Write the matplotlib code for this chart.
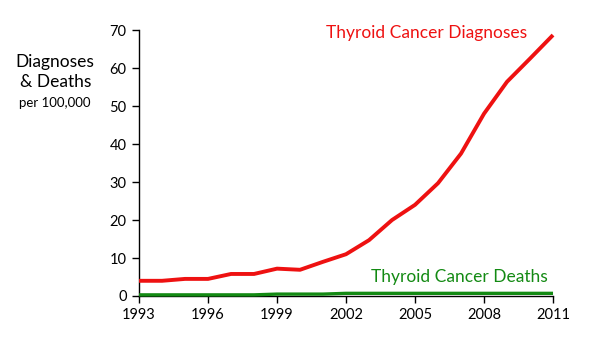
import numpy as np
import matplotlib.pyplot as plt

plt.rcParams['font.family'] = ['Lato', 'DejaVu Sans']

# --- Data (per 100,000) ---
years = list(range(1993, 2012))
diagnoses = [4.0, 4.0, 4.5, 4.5, 5.8, 5.8, 7.2, 6.9, 9.0, 11.0,
             14.7, 20.0, 24.0, 29.7, 37.5, 48.0, 56.4, 62.5, 68.7]
deaths = [0.3, 0.3, 0.3, 0.3, 0.3, 0.3, 0.5, 0.5, 0.5, 0.7,
          0.7, 0.7, 0.7, 0.7, 0.7, 0.7, 0.7, 0.7, 0.7]
xticks = [1993, 1996, 1999, 2002, 2005, 2008, 2011]
yticks = [0, 10, 20, 30, 40, 50, 60, 70]

red = "#ee1111"
green = "#138a13"

fig = plt.figure(figsize=(6, 3.5), dpi=100)
ax = fig.add_axes([0.2317, 0.1543, 0.69, 0.7597])

ax.plot(years, diagnoses, color=red, lw=2.8, solid_capstyle="butt", clip_on=False, zorder=3)
ax.plot(years, deaths, color=green, lw=2.4, solid_capstyle="butt", clip_on=False, zorder=3)

ax.set_xlim(1993, 2011)
ax.set_ylim(0, 70)
ax.set_xticks(xticks)
ax.set_yticks(yticks)
ax.tick_params(labelsize=10.5, length=5, width=1, color="black", pad=4)

for s in ["top", "right"]:
    ax.spines[s].set_visible(False)
for s in ["left", "bottom"]:
    ax.spines[s].set_color("black")
    ax.spines[s].set_linewidth(1)

# series labels
ax.text(2005.5, 69.2, "Thyroid Cancer Diagnoses", color=red, fontsize=12.5,
        ha="center", va="center")
ax.text(2006.95, 5.0, "Thyroid Cancer Deaths", color=green, fontsize=12.5,
        ha="center", va="center")

# y-axis label
fig.text(0.092, 0.794, "Diagnoses\n& Deaths", fontsize=12.5, ha="center",
         va="center", linespacing=1.3)
fig.text(0.092, 0.706, "per 100,000", fontsize=9.5, ha="center", va="center")

plt.savefig("out.png", dpi=100)
plt.close()
